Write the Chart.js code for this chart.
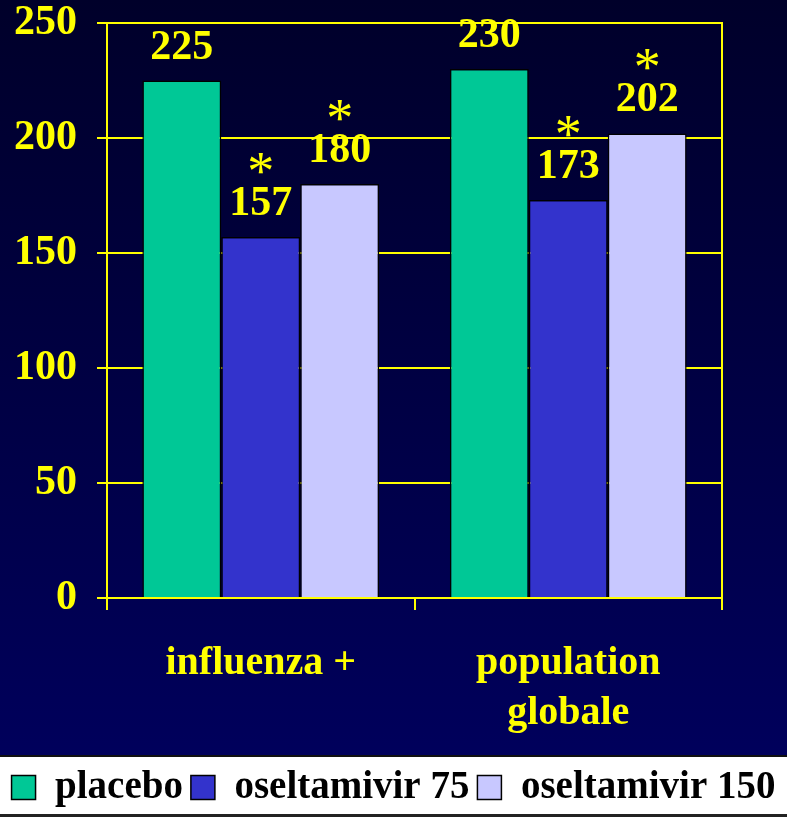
<!DOCTYPE html>
<html>
<head>
<meta charset="utf-8">
<script src="https://cdn.jsdelivr.net/npm/chart.js@4/dist/chart.umd.min.js"></script>
<style>
  html, body { margin: 0; padding: 0; background: #000033; }
  #wrap { width: 787px; height: 817px; }
</style>
</head>
<body>
<div id="wrap"><canvas id="canvas" width="787" height="817"></canvas></div>
<script>
// data
var categories = [['influenza +'], ['population', 'globale']];
var seriesNames = ['placebo', 'oseltamivir 75', 'oseltamivir 150'];
var placebo = [225, 230];
var oselt75 = [157, 173];
var oselt150 = [180, 202];
var stars = [[false, false], [true, true], [true, true]]; // asterisk above the label
var yMin = 0, yMax = 250, yStep = 50;

var colors = ['#00C896', '#3333CC', '#C8C8FF'];
var yellow = '#FFFF00';
var serif = "'Liberation Serif', 'Times New Roman', serif";

// background gradient + white legend band
var backdrop = {
  id: 'backdrop',
  beforeDraw: function (chart) {
    var c = chart.ctx, w = chart.width, h = chart.height;
    var lgTop = chart.legend.top;
    c.save();
    var g = c.createLinearGradient(0, 0, 0, lgTop);
    g.addColorStop(0, '#00002a');
    g.addColorStop(1, '#00005c');
    c.fillStyle = g;
    c.fillRect(0, 0, w, lgTop);
    c.fillStyle = '#ffffff';
    c.fillRect(0, lgTop - 3, w, h - lgTop + 3);
    c.fillStyle = '#111111';
    c.fillRect(0, lgTop - 5, w, 2);
    c.fillStyle = '#222222';
    c.fillRect(0, h - 3, w, 3);
    c.restore();
  }
};

// value labels with asterisks above the bars
var barLabels = {
  id: 'barLabels',
  afterDatasetsDraw: function (chart) {
    var c = chart.ctx;
    c.save();
    c.fillStyle = yellow;
    c.textAlign = 'center';
    c.textBaseline = 'alphabetic';
    chart.data.datasets.forEach(function (ds, i) {
      var meta = chart.getDatasetMeta(i);
      meta.data.forEach(function (bar, j) {
        var base = bar.y - 22;
        c.font = 'bold 42px ' + serif;
        c.fillText(String(ds.data[j]), bar.x, base);
        if (stars[i][j]) {
          c.font = '54px ' + serif;
          c.fillText('*', bar.x, base - 26);
        }
      });
    });
    c.restore();
  }
};

var ctx = document.getElementById('canvas');
var chart = new Chart(ctx, {
  type: 'bar',
  data: {
    labels: categories,
    datasets: [
      { label: seriesNames[0], data: placebo, backgroundColor: colors[0] },
      { label: seriesNames[1], data: oselt75, backgroundColor: colors[1] },
      { label: seriesNames[2], data: oselt150, backgroundColor: colors[2] }
    ]
  },
  options: {
    responsive: false,
    animation: false,
    layout: { padding: { top: 23, left: 0, right: 0, bottom: 0 } },
    datasets: {
      bar: { categoryPercentage: 0.77, barPercentage: 1.0, borderColor: '#000000', borderWidth: 1.5 }
    },
    scales: {
      x: {
        grid: { offset: true, drawOnChartArea: false, color: yellow, lineWidth: 2, tickLength: 12 },
        border: { color: yellow, width: 2 },
        ticks: { color: yellow, padding: 29, font: { family: serif, size: 40, weight: 'bold', lineHeight: 1.25 } },
        afterFit: function (s) { s.height = 162; }
      },
      y: {
        min: yMin, max: yMax,
        grid: { color: yellow, lineWidth: 2, tickLength: 10 },
        border: { color: yellow, width: 2 },
        ticks: { stepSize: yStep, color: yellow, padding: 20, font: { family: serif, size: 42, weight: 'bold' } },
        afterFit: function (s) { s.width = 107; s.paddingTop = 0; s.paddingBottom = 0; }
      },
      y2: {
        position: 'right',
        min: yMin, max: yMax,
        grid: { display: false },
        border: { color: yellow, width: 2 },
        ticks: { display: false },
        afterFit: function (s) { s.width = 65; }
      }
    },
    plugins: {
      legend: {
        position: 'bottom',
        labels: {
          color: '#000000',
          boxWidth: 24, boxHeight: 24, padding: 8,
          font: { family: serif, size: 39, weight: 'bold' }
        }
      },
      tooltip: { enabled: false }
    }
  },
  plugins: [backdrop, barLabels]
});
</script>
</body>
</html>
